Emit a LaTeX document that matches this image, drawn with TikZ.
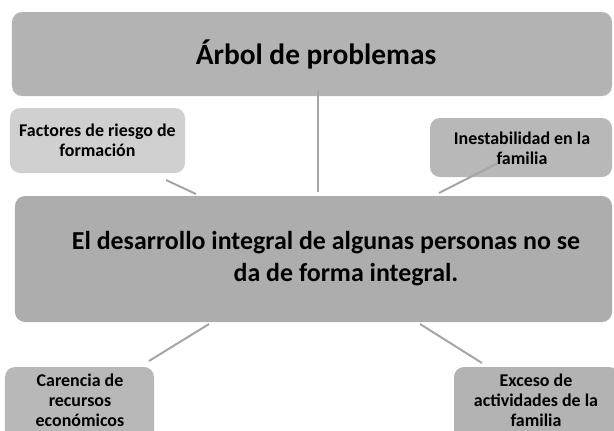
\documentclass[tikz,border=0pt]{standalone}
\usepackage{fontspec}
\setmainfont{Carlito}
\definecolor{topgray}{HTML}{B3B3B3}
\definecolor{lightgray1}{HTML}{D0D0D0}
\definecolor{midgray}{HTML}{B8B8B8}
\definecolor{maingray}{HTML}{ADADAD}
\definecolor{linegray}{HTML}{A6A6A6}
\tikzset{
  box/.style={rounded corners=10bp, draw=none, inner sep=2bp, align=center, font=\bfseries},
  small/.style={font=\bfseries\fontsize{18}{20}\selectfont, align=center, inner sep=0pt},
  conn/.style={draw=linegray, line width=2bp},
}
\begin{document}
\begin{tikzpicture}[x=1bp,y=-1bp]
\useasboundingbox (0,0) rectangle (614,430);
\clip (0,0) rectangle (614,430);
% boxes
\node[box, fill=topgray, minimum width=600bp, minimum height=84bp] (top) at (312,54) {};
\node[box, fill=lightgray1, minimum width=175bp, minimum height=65bp] (fact) at (97.5,140.5) {};
\node[box, fill=midgray, minimum width=182bp, minimum height=59bp] (ines) at (521,147.5) {};
\node[box, fill=maingray, minimum width=597bp, minimum height=126bp] (main) at (313.5,259) {};
\node[box, fill=midgray, minimum width=149bp, minimum height=76bp] (car) at (79.5,405) {};
\node[box, fill=topgray, minimum width=165bp, minimum height=76bp] (exc) at (536.5,405) {};
% connectors
\coordinate (t1) at (318,90);
\coordinate (t2) at (318,192);
\coordinate (f1) at (166,180);
\coordinate (f2) at (196,194);
\coordinate (i1) at (439,193);
\coordinate (i2) at (500,162);
\coordinate (c1) at (209,324);
\coordinate (c2) at (149,361);
\coordinate (e1) at (420,324);
\coordinate (e2) at (482,363);
\draw[conn] (t1) -- (t2);
\draw[conn] (f1) -- (f2);
\draw[conn] (i1) -- (i2);
\draw[conn] (c1) -- (c2);
\draw[conn] (e1) -- (e2);
% texts
\node[font=\bfseries\fontsize{29.5}{34}\selectfont] (toptext) at (316,54) {Árbol de problemas};
\node[small] (facttext) at (97.5,140) {Factores de riesgo de\\formación};
\node[small] (inestext) at (522,148) {Inestabilidad en la\\familia};
\node[font=\bfseries\fontsize{26}{32}\selectfont, align=center] (maintext) at (326,259) {El desarrollo integral de algunas personas no se\\\hspace*{40bp}da de forma integral.};
\node[small] (cartext) at (80,400) {Carencia de\\recursos\\económicos};
\node[small] (exctext) at (536,400) {Exceso de\\actividades de la\\familia};
\end{tikzpicture}
\end{document}
